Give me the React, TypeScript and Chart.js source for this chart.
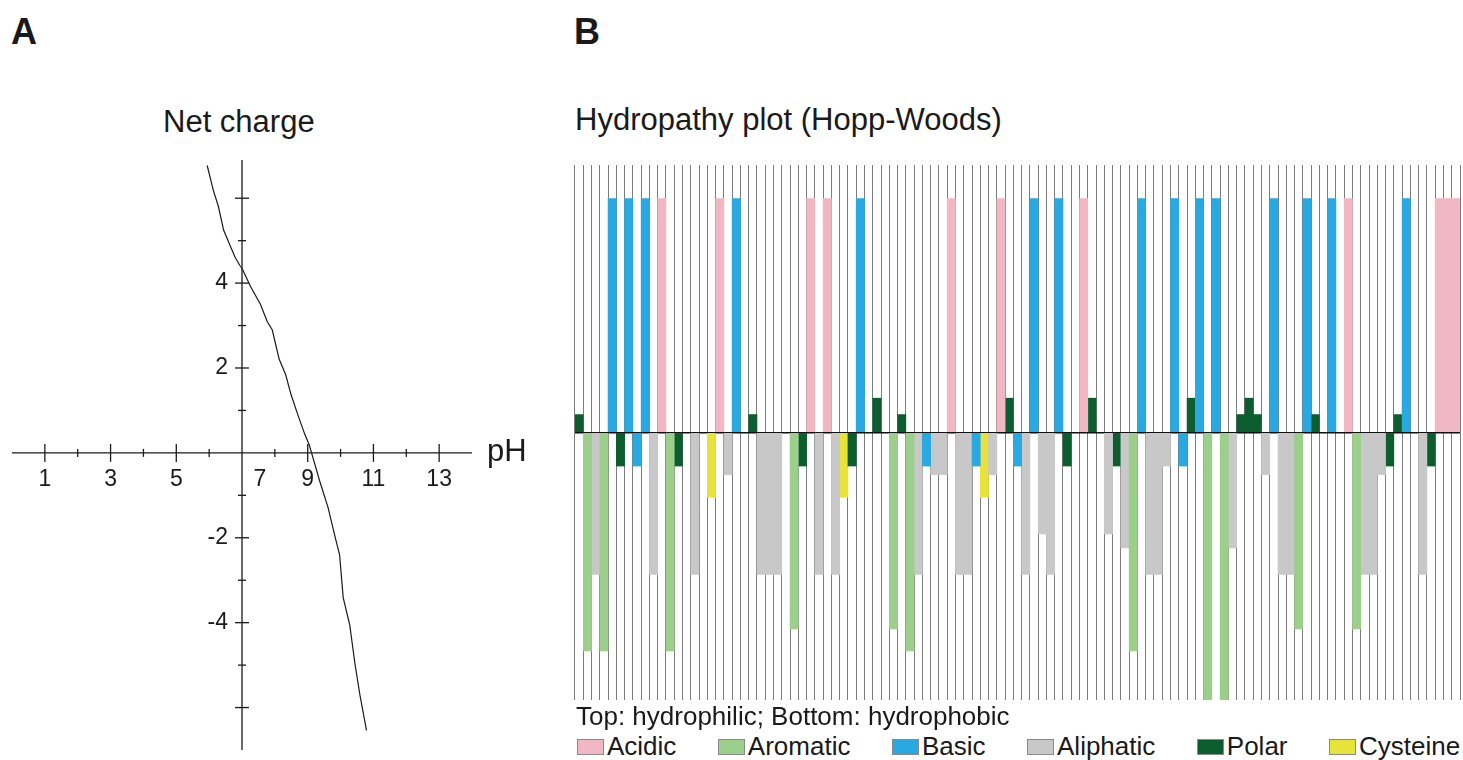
import React, { useEffect, useRef } from "react";
import { Chart, registerables } from "chart.js";

Chart.register(...registerables);

const FONT = '"Liberation Sans", Arial, Helvetica, sans-serif';
const INK = "#1a1a1a";

// ---------- Panel A: net charge vs pH ----------
const pHValues = [5.94, 6.13, 6.28, 6.44, 6.64, 6.79, 6.93, 7.0, 7.26, 7.56, 7.77, 7.92, 8.13, 8.33, 8.49, 8.69, 8.9, 9.05, 9.15, 9.36, 9.62, 9.82, 9.97, 10.08, 10.28, 10.44, 10.59, 10.79];
const netCharge = [6.77, 6.18, 5.81, 5.25, 4.88, 4.61, 4.42, 4.35, 3.92, 3.5, 3.09, 2.9, 2.21, 1.84, 1.38, 0.92, 0.46, 0.18, -0.09, -0.65, -1.29, -1.94, -2.4, -3.41, -4.06, -4.98, -5.71, -6.54];
const pHTickLabels = [1, 3, 5, 7, 9, 11, 13];
const pHMinorTicks = [2, 4, 6, 8, 10, 12];
const chargeTickLabels = [4, 2, -2, -4];
const chargeMajorTicks = [6, 4, 2, -2, -4, -6];
const chargeMinorTicks = [5, 3, 1, -1, -3, -5];

// ---------- Panel B: hydropathy plot ----------
const classNames = ["Acidic", "Aromatic", "Basic", "Aliphatic", "Polar", "Cysteine"];
const classColors = ["#f2b7c4", "#9ccf8b", "#29a9e1", "#c8c8c8", "#0c5e2e", "#e8e33a"];
// class code per residue: A=Acidic, R=Aromatic, B=Basic, L=Aliphatic, P=Polar, C=Cysteine, -=none
const residueClass = [
  "P", "R", "L", "R", "B", "P", "B", "B", "B", "L",
  "A", "R", "P", "-", "L", "-", "C", "A", "L", "B",
  "-", "P", "L", "L", "L", "-", "R", "P", "A", "L",
  "A", "L", "C", "P", "B", "-", "P", "-", "R", "P",
  "R", "L", "B", "L", "L", "A", "L", "L", "B", "C",
  "L", "A", "P", "B", "L", "B", "L", "L", "B", "P",
  "-", "A", "P", "-", "L", "P", "L", "R", "B", "L",
  "L", "L", "B", "B", "P", "B", "R", "B", "R", "L",
  "P", "P", "P", "L", "B", "L", "L", "R", "B", "P",
  "-", "B", "-", "A", "R", "L", "L", "L", "P", "P",
  "B", "-", "L", "P", "A", "A", "A",
];
const hydropathy = [
  0.23, -2.8, -1.82, -2.8, 3, -0.43, 3, -0.43, 3, -1.82,
  3, -2.8, -0.43, 0, -1.82, 0, -0.83, 3, -0.54, 3,
  0, 0.23, -1.82, -1.82, -1.82, 0, -2.52, -0.43, 3, -1.82,
  3, -1.82, -0.83, -0.43, 3, 0, 0.44, 0, -2.52, 0.23,
  -2.8, -1.82, -0.43, -0.54, -0.54, 3, -1.82, -1.82, -0.43, -0.83,
  -0.54, 3, 0.44, -0.43, -1.82, 3, -1.3, -1.82, 3, -0.43,
  0, 3, 0.44, 0, -1.3, -0.43, -1.48, -2.8, 3, -1.82,
  -1.82, -0.43, 3, -0.43, 0.44, 3, -3.43, 3, -3.43, -1.48,
  0.23, 0.44, 0.23, -0.54, 3, -1.82, -1.82, -2.52, 3, 0.23,
  0, 3, 0, 3, -2.52, -1.82, -1.82, -0.54, -0.43, 0.23,
  3, 0, -1.82, -0.43, 3, 3, 3,
];
const classCodes = ["A", "R", "B", "L", "P", "C"];

const crossAxesPlugin = {
  id: "crossAxes",
  afterDatasetsDraw(chart: any) {
    const { ctx } = chart;
    const xs = chart.scales.x;
    const ys = chart.scales.y;
    const x0 = xs.getPixelForValue(7);
    const y0 = ys.getPixelForValue(0);
    ctx.save();
    ctx.strokeStyle = INK;
    ctx.lineWidth = 1.3;
    const seg = (a: number, b: number, c: number, d: number) => {
      ctx.beginPath();
      ctx.moveTo(a, b);
      ctx.lineTo(c, d);
      ctx.stroke();
    };
    seg(xs.left, y0, xs.right, y0);
    seg(x0, ys.top, x0, ys.bottom);
    pHTickLabels.forEach((v) => {
      if (v === 7) return;
      const px = xs.getPixelForValue(v);
      seg(px, y0 - 9, px, y0 + 9);
    });
    pHMinorTicks.forEach((v) => {
      const px = xs.getPixelForValue(v);
      seg(px, y0 - 4, px, y0 + 4);
    });
    chargeMajorTicks.forEach((v) => {
      const py = ys.getPixelForValue(v);
      seg(x0 - 7, py, x0 + 7, py);
    });
    chargeMinorTicks.forEach((v) => {
      const py = ys.getPixelForValue(v);
      seg(x0 - 4, py, x0 + 4, py);
    });
    ctx.fillStyle = INK;
    ctx.font = `23px ${FONT}`;
    ctx.textAlign = "center";
    ctx.textBaseline = "middle";
    pHTickLabels.forEach((v) => {
      const px = xs.getPixelForValue(v) + (v === 7 ? 18 : 0);
      ctx.fillText(String(v), px, y0 + 27);
    });
    ctx.textAlign = "right";
    chargeTickLabels.forEach((v) => {
      ctx.fillText(String(v), x0 - 14, ys.getPixelForValue(v));
    });
    ctx.font = `31px ${FONT}`;
    ctx.textAlign = "left";
    ctx.fillText("pH", xs.right + 15, y0);
    ctx.restore();
  },
};

export default function App() {
  const refA = useRef<HTMLCanvasElement | null>(null);
  const refB = useRef<HTMLCanvasElement | null>(null);

  useEffect(() => {
    const chartA = new Chart(refA.current as HTMLCanvasElement, {
      type: "scatter",
      data: {
        datasets: [
          {
            label: "Net charge",
            data: pHValues.map((p, i) => ({ x: p, y: netCharge[i] })),
            showLine: true,
            borderColor: INK,
            borderWidth: 1.2,
            pointRadius: 0,
            tension: 0,
          },
        ],
      },
      options: {
        animation: false,
        responsive: true,
        maintainAspectRatio: false,
        layout: { padding: { left: 12, right: 73, top: 20, bottom: 10 } },
        plugins: { legend: { display: false }, tooltip: { enabled: false } },
        scales: {
          x: { type: "linear", min: 0, max: 14, display: false },
          y: { type: "linear", min: -7, max: 6.9, display: false },
        },
      },
      plugins: [crossAxesPlugin],
    });

    const labels = hydropathy.map((_, i) => String(i + 1));
    const chartB = new Chart(refB.current as HTMLCanvasElement, {
      type: "bar",
      data: {
        labels,
        datasets: classCodes.map((code, k) => ({
          label: classNames[k],
          data: hydropathy.map((v, i) => (residueClass[i] === code ? v : null)),
          backgroundColor: classColors[k],
          borderWidth: 0,
          grouped: false,
          categoryPercentage: 1,
          barPercentage: 1,
        })),
      },
      options: {
        animation: false,
        responsive: true,
        maintainAspectRatio: false,
        layout: { padding: { left: 10, right: 3, top: 10, bottom: 10 } },
        plugins: { legend: { display: false }, tooltip: { enabled: false } },
        scales: {
          x: {
            type: "category",
            offset: true,
            z: 1,
            grid: { offset: true, color: "#7d7d7d", lineWidth: 1, drawTicks: false },
            ticks: { display: false },
            border: { display: false },
          },
          y: {
            type: "linear",
            min: -3.43,
            max: 3.43,
            z: 1,
            afterBuildTicks: (axis: any) => {
              axis.ticks = [{ value: 0 }];
            },
            grid: { color: "#111", lineWidth: 1.6, drawTicks: false },
            ticks: { display: false },
            border: { display: false },
          },
        },
      },
    });

    return () => {
      chartA.destroy();
      chartB.destroy();
    };
  }, []);

  const text = (fs: number, bold = false): React.CSSProperties => ({
    position: "absolute",
    fontFamily: FONT,
    fontSize: fs,
    lineHeight: `${fs}px`,
    fontWeight: bold ? 700 : 400,
    color: INK,
    whiteSpace: "nowrap",
    margin: 0,
  });

  return (
    <div style={{ position: "fixed", left: 0, top: 0, width: 1463, height: 760, background: "#fff", overflow: "hidden" }}>
      <div style={{ ...text(36, true), left: 11, top: 14 }}>A</div>
      <div style={{ ...text(36, true), left: 574, top: 14 }}>B</div>
      <div style={{ ...text(31), left: 163, top: 106 }}>Net charge</div>
      <div style={{ ...text(31), left: 575, top: 104 }}>Hydropathy plot (Hopp-Woods)</div>
      <div style={{ position: "absolute", left: 0, top: 140, width: 545, height: 620 }}>
        <canvas ref={refA} />
      </div>
      <div style={{ position: "absolute", left: 565, top: 155, width: 898, height: 555 }}>
        <canvas ref={refB} />
      </div>
      <div style={{ ...text(26), left: 576, top: 703 }}>Top: hydrophilic; Bottom: hydrophobic</div>
      <div style={{ ...text(26), left: 577, top: 733, display: "flex", gap: 41.5 }}>
        {classNames.map((name, k) => (
          <span key={name} style={{ whiteSpace: "nowrap" }}>
            <span
              style={{
                display: "inline-block",
                width: 27,
                height: 16,
                boxSizing: "border-box",
                border: "1px solid #8a8a8a",
                background: classColors[k],
                marginRight: 3,
                verticalAlign: "baseline",
              }}
            />
            {name}
          </span>
        ))}
      </div>
    </div>
  );
}
